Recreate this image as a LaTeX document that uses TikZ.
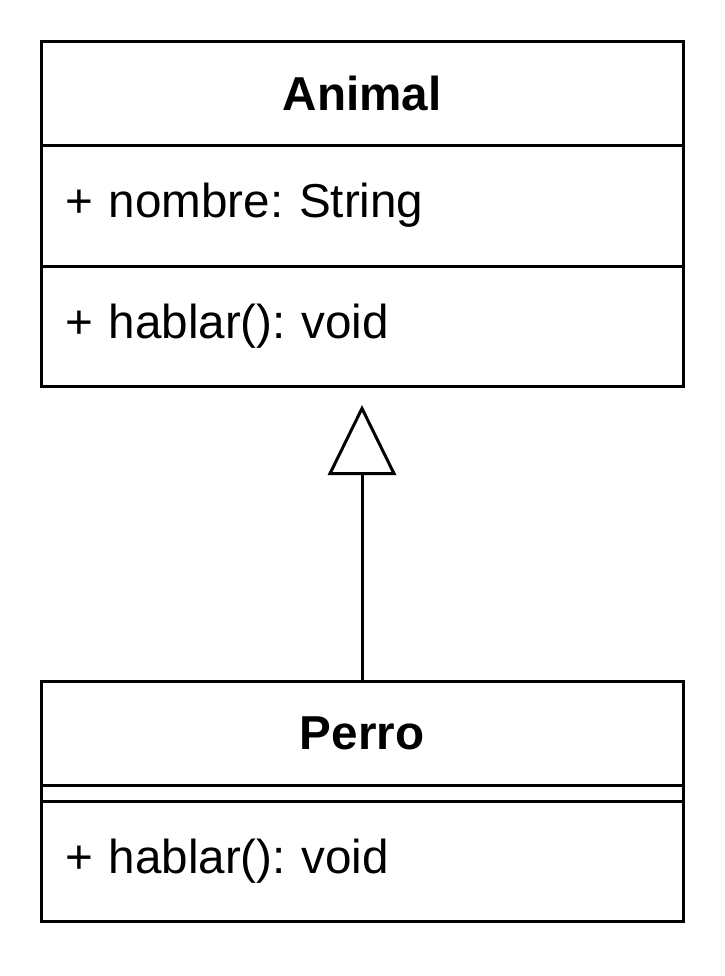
\documentclass[tikz,border=0pt]{standalone}
\usepackage{fontspec}
\setmainfont{Liberation Sans}
\usepackage{tikz}
\usetikzlibrary{positioning, calc, arrows.meta}
\frenchspacing

\tikzset{
    umlpart/.style={draw, line width=1.5pt, minimum width=321pt, inner sep=0pt, outer sep=0pt,
        font=\fontsize{23.8}{28}\selectfont},
    umlname/.style={umlpart, font=\fontsize{23.8}{28}\selectfont\bfseries},
    umlfield/.style={umlpart, text width=297pt, inner xsep=12pt, align=left},
    inherit/.style={line width=1.5pt, -{Triangle[open, length=35pt, width=34pt]}, shorten >=9.5pt}
}

\begin{document}
\begin{tikzpicture}[x=0.5pt, y=-0.5pt]

    \useasboundingbox (0,0) rectangle (724,976);

    % Superclass
    \node[umlname, minimum height=52pt] (animalname) at (362,93) {Animal};
    \node[umlfield, minimum height=60.5pt] (animalattr) at (362,205.5) {+ nombre: String};
    \node[umlfield, minimum height=60pt] (animalmeth) at (362,326) {+ hablar(): void};

    % Subclass
    \node[umlname, minimum height=52pt] (perroname) at (362,733) {Perro};
    \node[umlpart, minimum height=8pt] (perroattr) at (362,793) {};
    \node[umlfield, minimum height=60pt] (perrometh) at (362,861) {+ hablar(): void};

    % Generalization
    \draw[inherit] (perroname) -- (animalmeth);

\end{tikzpicture}
\end{document}
